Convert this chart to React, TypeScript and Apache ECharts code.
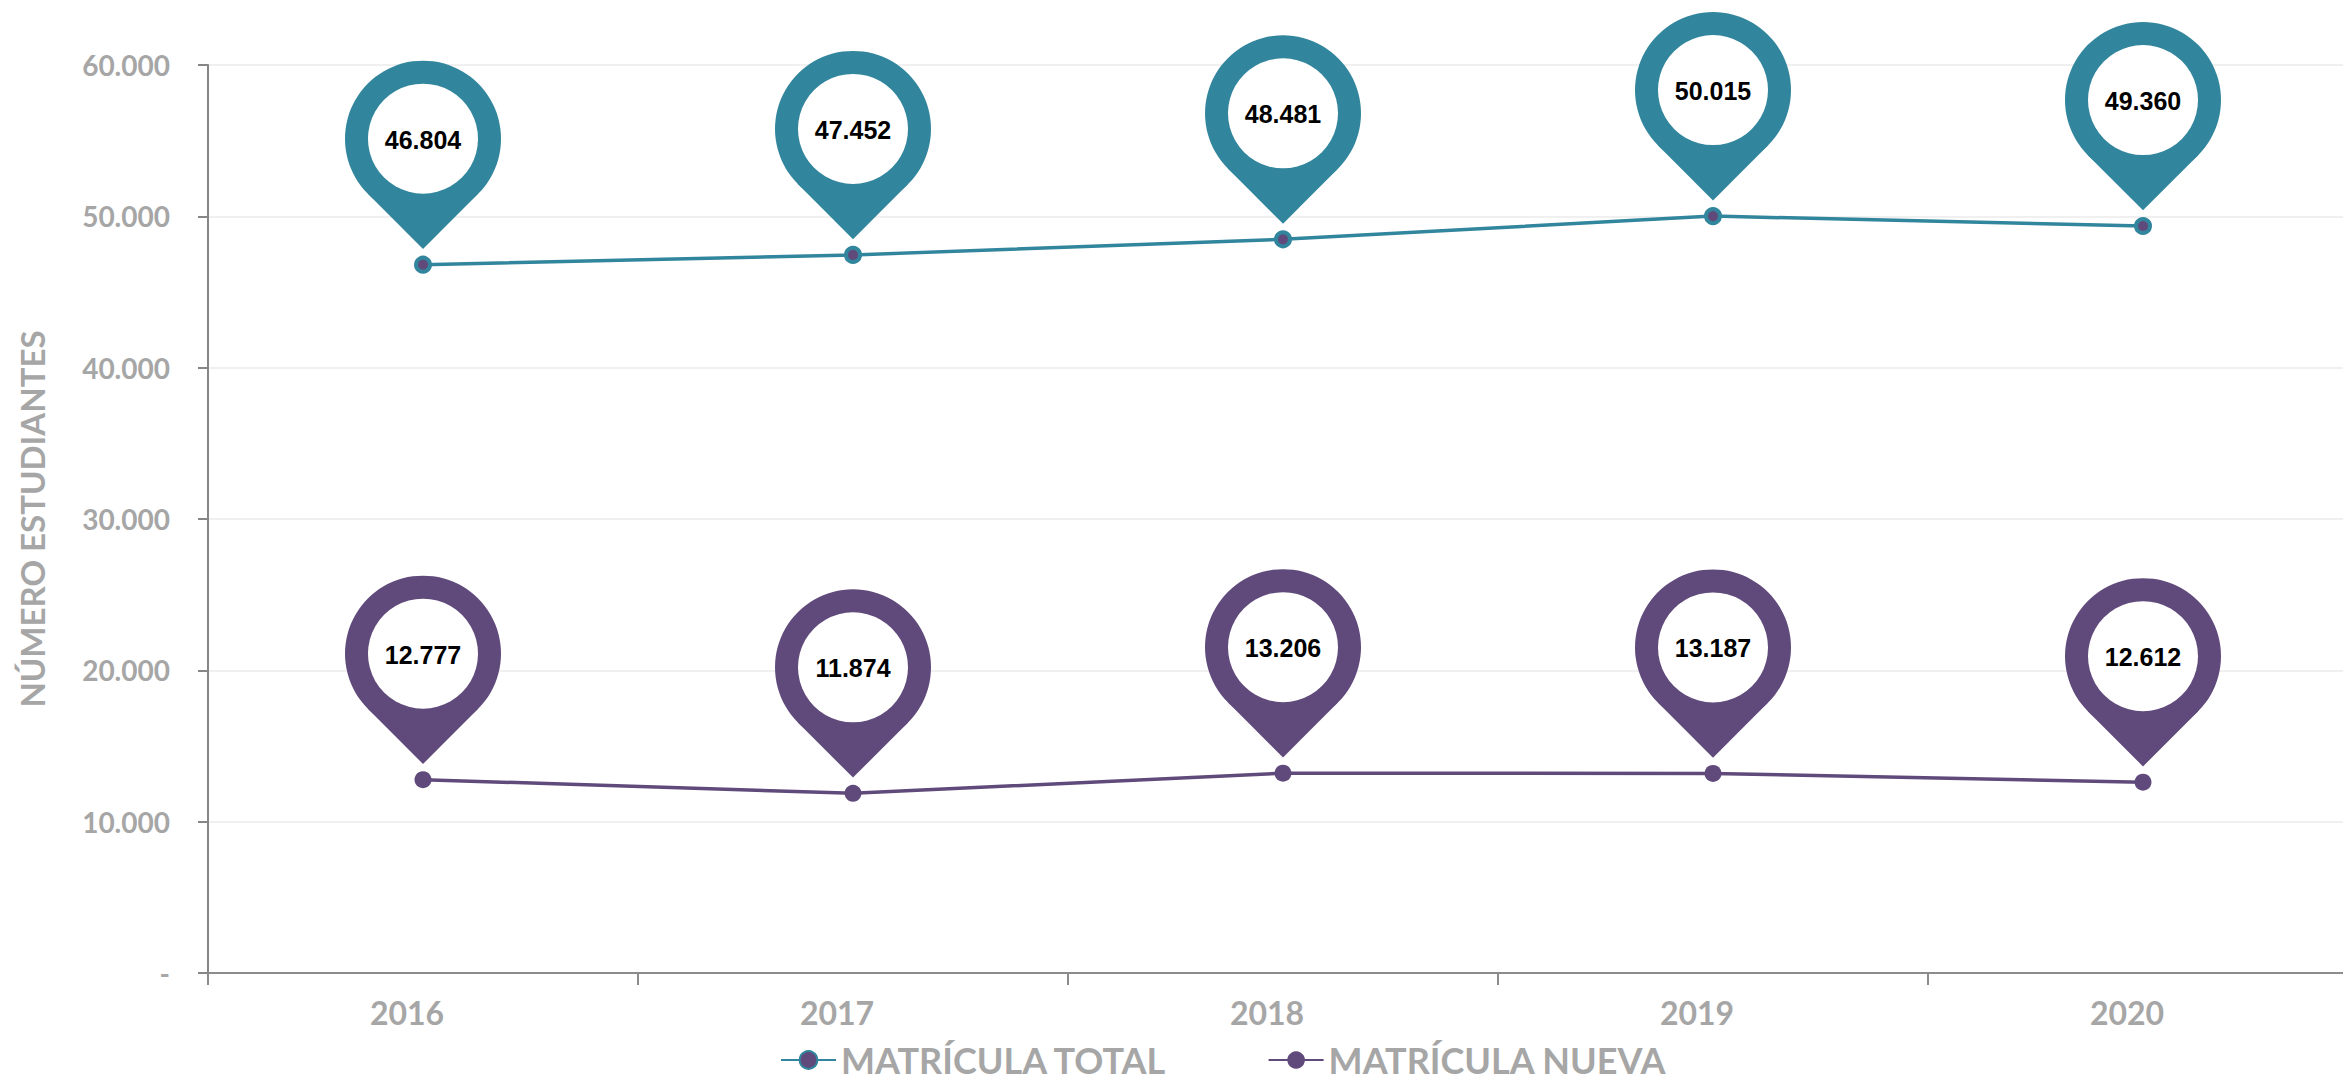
import React, { useEffect, useRef } from "react";
import * as echarts from "echarts";

const years = ["2016", "2017", "2018", "2019", "2020"];
const matriculaTotal = [46804, 47452, 48481, 50015, 49360];
const matriculaNueva = [12777, 11874, 13206, 13187, 12612];
const yTicks = [0, 10000, 20000, 30000, 40000, 50000, 60000];

const TEAL = "#31859C";
const PURPLE = "#604A7B";
const GRAY = "#A6A6A6";

const fmt = (v: number) =>
  v === 0 ? "-" : String(v).replace(/\B(?=(\d{3})+(?!\d))/g, ".");

function pinSeries(name: string, values: number[], color: string) {
  return {
    name,
    type: "custom",
    z: 5,
    clip: false,
    data: values.map((v, i) => [i, v]),
    renderItem: (params: any, api: any) => {
      const pt = api.coord([api.value(0), api.value(1)]);
      const r = 78;
      const a = r / Math.SQRT2;
      const cx = pt[0];
      const cy = pt[1] - 126;
      return {
        type: "group",
        children: [
          { type: "circle", shape: { cx, cy, r }, style: { fill: color } },
          {
            type: "polygon",
            shape: {
              points: [
                [cx, cy + r * Math.SQRT2],
                [cx - a, cy + a],
                [cx, cy],
                [cx + a, cy + a],
              ],
            },
            style: { fill: color },
          },
          { type: "circle", shape: { cx, cy, r: 55 }, style: { fill: "#ffffff" } },
          {
            type: "text",
            style: {
              text: fmt(api.value(1)),
              x: cx,
              y: cy + 1,
              align: "center",
              verticalAlign: "middle",
              fontFamily: '"Liberation Sans", Arial, sans-serif',
              fontWeight: "bold",
              fontSize: 25,
              fill: "#000000",
            },
          },
        ],
      };
    },
  };
}

export default function App() {
  const ref = useRef<HTMLDivElement>(null);
  useEffect(() => {
    if (!ref.current) return;
    const chart = echarts.init(ref.current, null, { renderer: "svg" });
    chart.setOption({
      animation: false,
      backgroundColor: "#ffffff",
      grid: {
        left: 208,
        top: 65,
        width: 2150,
        height: 908,
        containLabel: false,
        outerBoundsMode: "none",
      },
      legend: {
        data: ["MATRÍCULA TOTAL", "MATRÍCULA NUEVA"],
        left: 775,
        top: 1037,
        itemWidth: 55,
        itemHeight: 22,
        itemGap: 100,
        textStyle: {
          color: GRAY,
          fontFamily: "Lato, sans-serif",
          fontWeight: "bold",
          fontSize: 36,
          lineHeight: 36,
        },
      },
      xAxis: {
        type: "category",
        data: years,
        boundaryGap: true,
        axisLine: { show: true, lineStyle: { color: "#8c8c8c", width: 2 } },
        axisTick: { show: true, length: 12, lineStyle: { color: "#8c8c8c", width: 2 } },
        splitLine: { show: false },
        axisLabel: {
          color: GRAY,
          fontFamily: "Lato, sans-serif",
          fontWeight: "bold",
          fontSize: 32,
          lineHeight: 32,
          margin: 23,
          padding: [0, 32, 0, 0],
        },
      },
      yAxis: {
        type: "value",
        min: 0,
        max: 60000,
        interval: 10000,
        name: "NÚMERO ESTUDIANTES",
        nameLocation: "middle",
        nameRotate: 90,
        nameGap: 160,
        nameTextStyle: {
          color: GRAY,
          fontFamily: "Lato, sans-serif",
          fontWeight: "bold",
          fontSize: 33,
        },
        axisLine: { show: true, lineStyle: { color: "#868686", width: 2 } },
        axisTick: { show: true, length: 10, lineStyle: { color: "#868686", width: 2 } },
        splitLine: { show: true, lineStyle: { color: "#F0F0F0", width: 2 } },
        axisLabel: {
          color: GRAY,
          fontFamily: "Lato, sans-serif",
          fontWeight: "bold",
          fontSize: 28,
          margin: 38,
          formatter: (v: number) => (yTicks.includes(v) ? fmt(v) : ""),
        },
      },
      series: [
        {
          name: "MATRÍCULA TOTAL",
          type: "line",
          data: matriculaTotal,
          symbol: "circle",
          symbolSize: 14,
          lineStyle: { color: TEAL, width: 3.5 },
          itemStyle: { color: PURPLE, borderColor: TEAL, borderWidth: 4 },
          z: 3,
        },
        {
          name: "MATRÍCULA NUEVA",
          type: "line",
          data: matriculaNueva,
          symbol: "circle",
          symbolSize: 17,
          lineStyle: { color: PURPLE, width: 3.5 },
          itemStyle: { color: PURPLE },
          z: 3,
        },
        pinSeries("pinTotal", matriculaTotal, TEAL),
        pinSeries("pinNueva", matriculaNueva, PURPLE),
      ],
    });
    return () => chart.dispose();
  }, []);
  return (
    <div
      ref={ref}
      style={{ position: "absolute", left: 0, top: 0, width: 2343, height: 1082 }}
    />
  );
}
